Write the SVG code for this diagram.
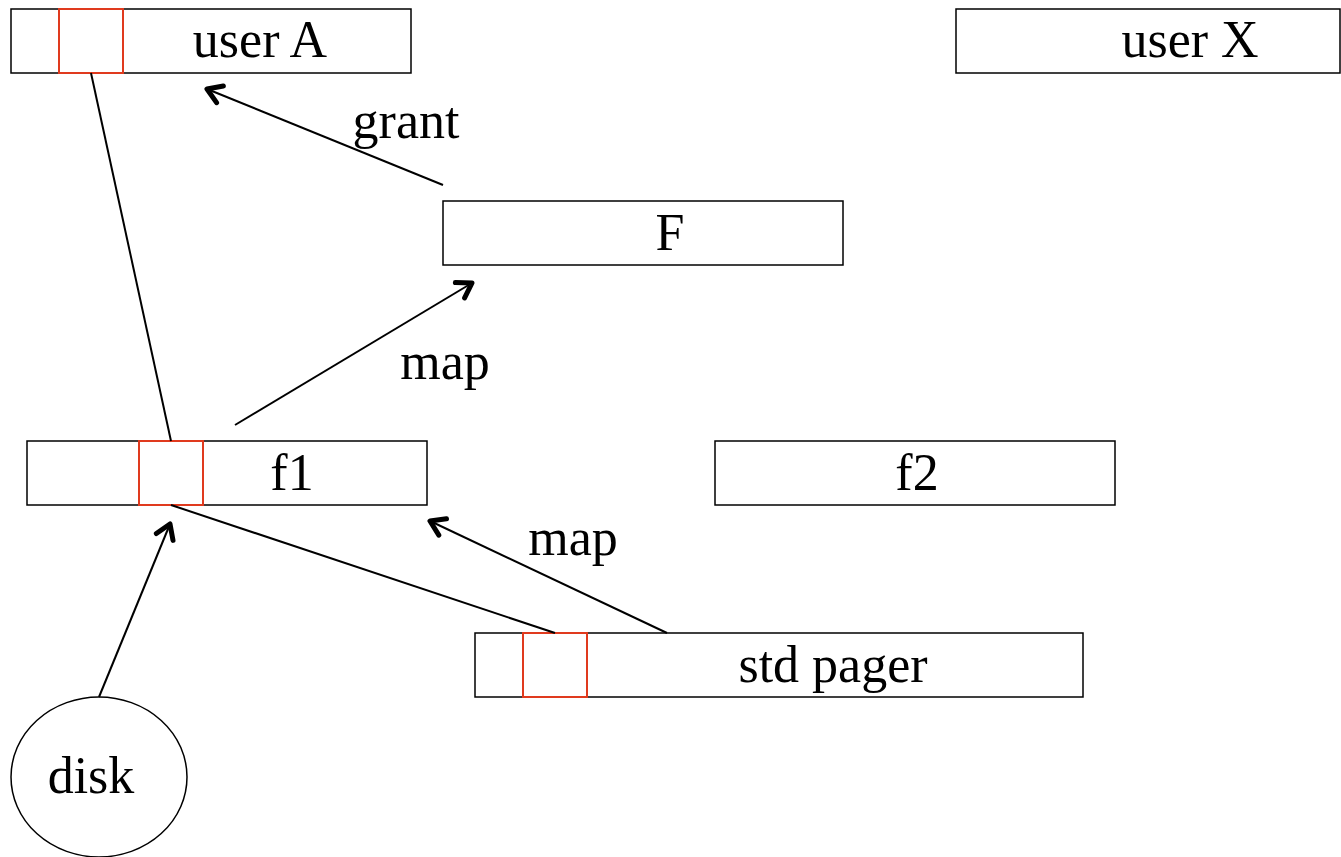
<svg xmlns="http://www.w3.org/2000/svg" width="1341" height="857" viewBox="0 0 1341 857">
<style>
.box{fill:#fff;stroke:#000;stroke-width:1.5}
.red{fill:none;stroke:#e03a1e;stroke-width:2}
.t{font-family:"Liberation Serif","Times New Roman",serif;font-size:52px;fill:#000;text-anchor:middle}
.ln{stroke:#000;stroke-width:2;fill:none}
</style>
<defs>
<marker id="ah" markerUnits="userSpaceOnUse" markerWidth="40" markerHeight="40" refX="20" refY="20" orient="auto">
<path d="M6,11 L20,20 L6,29" fill="none" stroke="#000" stroke-width="5" stroke-linecap="round" stroke-linejoin="round"/>
</marker>
</defs>
<rect width="1341" height="857" fill="#fff"/>
<g id="userA"><rect class="box" x="11" y="9" width="400" height="64"/><rect class="red" x="59" y="9" width="64" height="64"/><text class="t" x="260" y="57">user A</text></g>
<g id="userX"><rect class="box" x="956" y="9" width="384" height="64"/><text class="t" x="1190" y="57">user X</text></g>
<g id="F"><rect class="box" x="443" y="201" width="400" height="64"/><text class="t" x="670" y="250">F</text></g>
<g id="f1"><rect class="box" x="27" y="441" width="400" height="64"/><rect class="red" x="139" y="441" width="64" height="64"/><text class="t" x="292" y="490">f1</text></g>
<g id="f2"><rect class="box" x="715" y="441" width="400" height="64"/><text class="t" x="917" y="490">f2</text></g>
<g id="stdpager"><rect class="box" x="475" y="633" width="608" height="64"/><rect class="red" x="523" y="633" width="64" height="64"/><text class="t" x="833" y="682">std pager</text></g>
<g id="disk"><ellipse cx="99" cy="777" rx="88" ry="80" fill="#fff" stroke="#000" stroke-width="1.5"/><text class="t" x="91" y="793">disk</text></g>
<g id="connectors">
<line class="ln" x1="91" y1="73" x2="171" y2="441"/>
<line class="ln" x1="171" y1="505" x2="555" y2="633"/>
<line class="ln" x1="443" y1="185" x2="207" y2="89" marker-end="url(#ah)"/>
<line class="ln" x1="235" y1="425" x2="472" y2="283" marker-end="url(#ah)"/>
<line class="ln" x1="667" y1="633" x2="430" y2="521" marker-end="url(#ah)"/>
<line class="ln" x1="99" y1="697" x2="170" y2="524" marker-end="url(#ah)"/>
<text class="t" x="406" y="138">grant</text>
<text class="t" x="445" y="379">map</text>
<text class="t" x="573" y="555">map</text>
</g>
</svg>
